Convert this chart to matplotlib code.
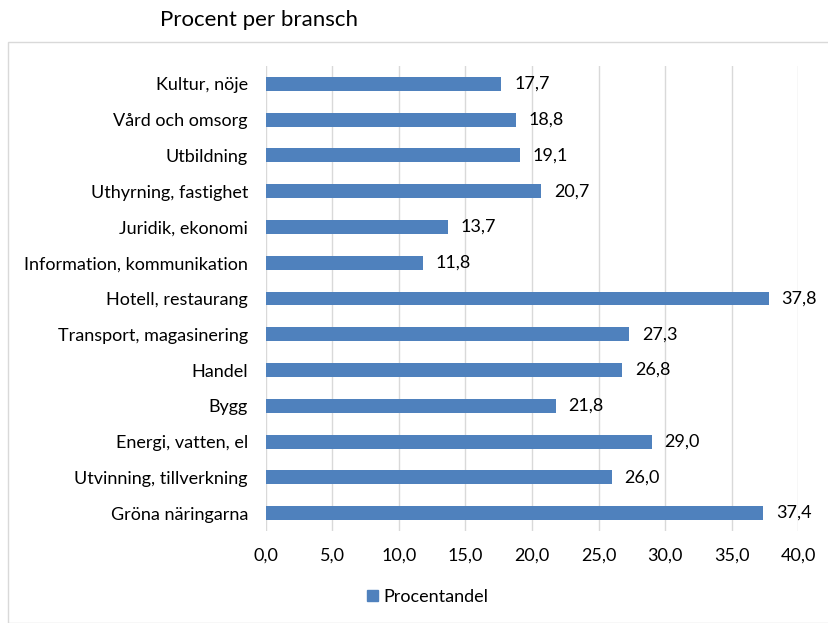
import matplotlib
matplotlib.use('Agg')
import matplotlib.pyplot as plt
from matplotlib.patches import Rectangle, Patch

categories = ['Kultur, nöje', 'Vård och omsorg', 'Utbildning', 'Uthyrning, fastighet',
              'Juridik, ekonomi', 'Information, kommunikation', 'Hotell, restaurang',
              'Transport, magasinering', 'Handel', 'Bygg', 'Energi, vatten, el',
              'Utvinning, tillverkning', 'Gröna näringarna']
values = [17.7, 18.8, 19.1, 20.7, 13.7, 11.8, 37.8, 27.3, 26.8, 21.8, 29.0, 26.0, 37.4]
x_ticks = [0, 5, 10, 15, 20, 25, 30, 35, 40]

bar_color = '#4F81BD'
plt.rcParams['font.family'] = ['Lato', 'DejaVu Sans']

fig = plt.figure(figsize=(8.29, 6.23), dpi=100)
ax = fig.add_axes([266 / 829, 0.1477, (798 - 266) / 829, 0.7463])

# chart frame
fig.patches.append(Rectangle((8 / 829, 0), 1, 1 - 42 / 623, transform=fig.transFigure,
                             fill=False, edgecolor='#d9d9d9', linewidth=1))

ypos = list(range(len(categories)))
ax.barh(ypos, values, height=0.39, color=bar_color, zorder=3)
for y, v in zip(ypos, values):
    ax.text(v + 0.95, y, f'{v:.1f}'.replace('.', ','), va='center', ha='left',
            fontsize=13, color='#000000')

ax.set_ylim(len(categories) - 0.5, -0.5)
ax.set_yticks(ypos)
ax.set_yticklabels(categories, fontsize=13)
ax.set_xlim(0, 40)
ax.set_xticks(x_ticks)
ax.set_xticklabels([f'{t:.1f}'.replace('.', ',') for t in x_ticks], fontsize=13)
ax.tick_params(axis='both', length=0)
ax.tick_params(axis='y', pad=13)
ax.tick_params(axis='x', pad=12)
ax.grid(axis='x', color='#d9d9d9', linewidth=1, zorder=0)
for s in ax.spines.values():
    s.set_visible(False)

fig.text(160 / 829, 1 - 20 / 623, 'Procent per bransch', fontsize=16, va='center', ha='left')

fig.legend(handles=[Patch(color=bar_color, label='Procentandel')], loc='center',
           bbox_to_anchor=(428 / 829, 1 - 597 / 623), frameon=False, fontsize=13,
           handlelength=0.6, handleheight=0.6, handletextpad=0.3)

fig.savefig('out.png', dpi=100)
